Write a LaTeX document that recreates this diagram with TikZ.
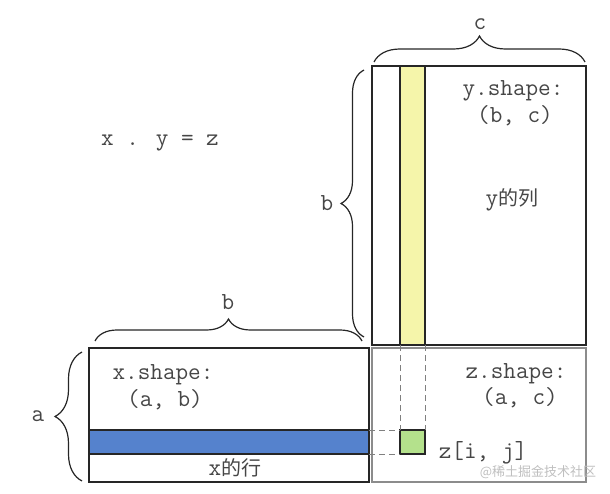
\documentclass[tikz,border=0pt]{standalone}
\usepackage{fontspec}
\newfontfamily\cjk{Noto Sans CJK SC}
\usetikzlibrary{decorations.pathreplacing}
\definecolor{txt}{RGB}{70,70,70}
\definecolor{blue1}{RGB}{85,130,205}
\definecolor{yel1}{RGB}{245,245,170}
\definecolor{grn1}{RGB}{180,225,140}
\tikzset{
  mat/.style={draw=black!85, line width=1.3pt, minimum width=#1, inner sep=0pt, outer sep=0pt, anchor=north west},
  lbl/.style={text=txt, font=\ttfamily\fontsize{24.5}{28}\selectfont, inner sep=0pt},
  brc/.style={decorate, decoration={brace, amplitude=#1}, line width=1.2pt, draw=black!85},
  dsh/.style={dashed, draw=black!50, line width=0.9pt, dash pattern=on 6pt off 4pt}
}
\begin{document}
\begin{tikzpicture}[x=1pt,y=-1pt]
\useasboundingbox (0,0) rectangle (610,494);
% y matrix
\node[mat=214pt, minimum height=279pt] (ymat) at (372,66) {};
\node[draw=black!85, line width=1.3pt, fill=yel1, minimum width=25pt, minimum height=279pt, inner sep=0pt, outer sep=0pt, anchor=north west] (ycol) at (400,66) {};
% z matrix
\node[draw=black!45, line width=1.3pt, minimum width=214pt, minimum height=134pt, inner sep=0pt, outer sep=0pt, anchor=north west] (zmat) at (372,348) {};
\node[draw=black!85, line width=1.3pt, fill=grn1, minimum width=25pt, minimum height=24pt, inner sep=0pt, outer sep=0pt, anchor=north west] (zc) at (400,430) {};
% x matrix
\node[mat=280pt, minimum height=134pt] (xmat) at (89,348) {};
\node[draw=black!85, line width=1.3pt, fill=blue1, minimum width=280pt, minimum height=24pt, inner sep=0pt, outer sep=0pt, anchor=north west] (xrow) at (89,430) {};
% dashed guides
\draw[dsh] (ycol.south west) -- (zc.north west);
\draw[dsh] (ycol.south east) -- (zc.north east);
\draw[dsh] (xrow.north east) -- (zc.north west);
\draw[dsh] (xrow.south east) -- (zc.south west);
% braces
\coordinate (cb1) at (374,62);
\coordinate (cb2) at (585,62);
\draw[brc=26pt] (cb1) -- (cb2);
\node[lbl] (lc) at (480,24) {c};
\coordinate (yb1) at (364,337);
\coordinate (yb2) at (364,70);
\draw[brc=23pt] (yb1) -- (yb2);
\node[lbl] (lyb) at (327,203) {b};
\coordinate (xb1) at (95,341);
\coordinate (xb2) at (362,341);
\draw[brc=22pt] (xb1) -- (xb2);
\node[lbl] (lxb) at (228,302) {b};
\coordinate (ab1) at (82,481);
\coordinate (ab2) at (82,352);
\draw[brc=27pt] (ab1) -- (ab2);
\node[lbl] (la) at (38,416) {a};
% texts
\node[lbl] (eq) at (160,143) {x . y = z};
\node[lbl] (ys1) at (513,91) {y.shape:};
\node[lbl] (ys2) at (515,116) {(b, c)};
\node[lbl] (ycolt) at (512,200) {y{\cjk\fontsize{20}{22}\selectfont 的列}};
\node[lbl] (xs1) at (163,375) {x.shape:};
\node[lbl] (xs2) at (165,400) {(a, b)};
\node[lbl] (xrowt) at (235,468) {x{\cjk\fontsize{20}{22}\selectfont 的行}};
\node[lbl] (zs1) at (516,374) {z.shape:};
\node[lbl] (zs2) at (520,398) {(a, c)};
\node[lbl] (zij) at (483,453) {z[i, j]};
\node[text=black!25, font=\cjk\fontsize{13}{15}\selectfont, inner sep=0pt] (wm) at (538,472) {@稀土掘金技术社区};
\end{tikzpicture}
\end{document}
